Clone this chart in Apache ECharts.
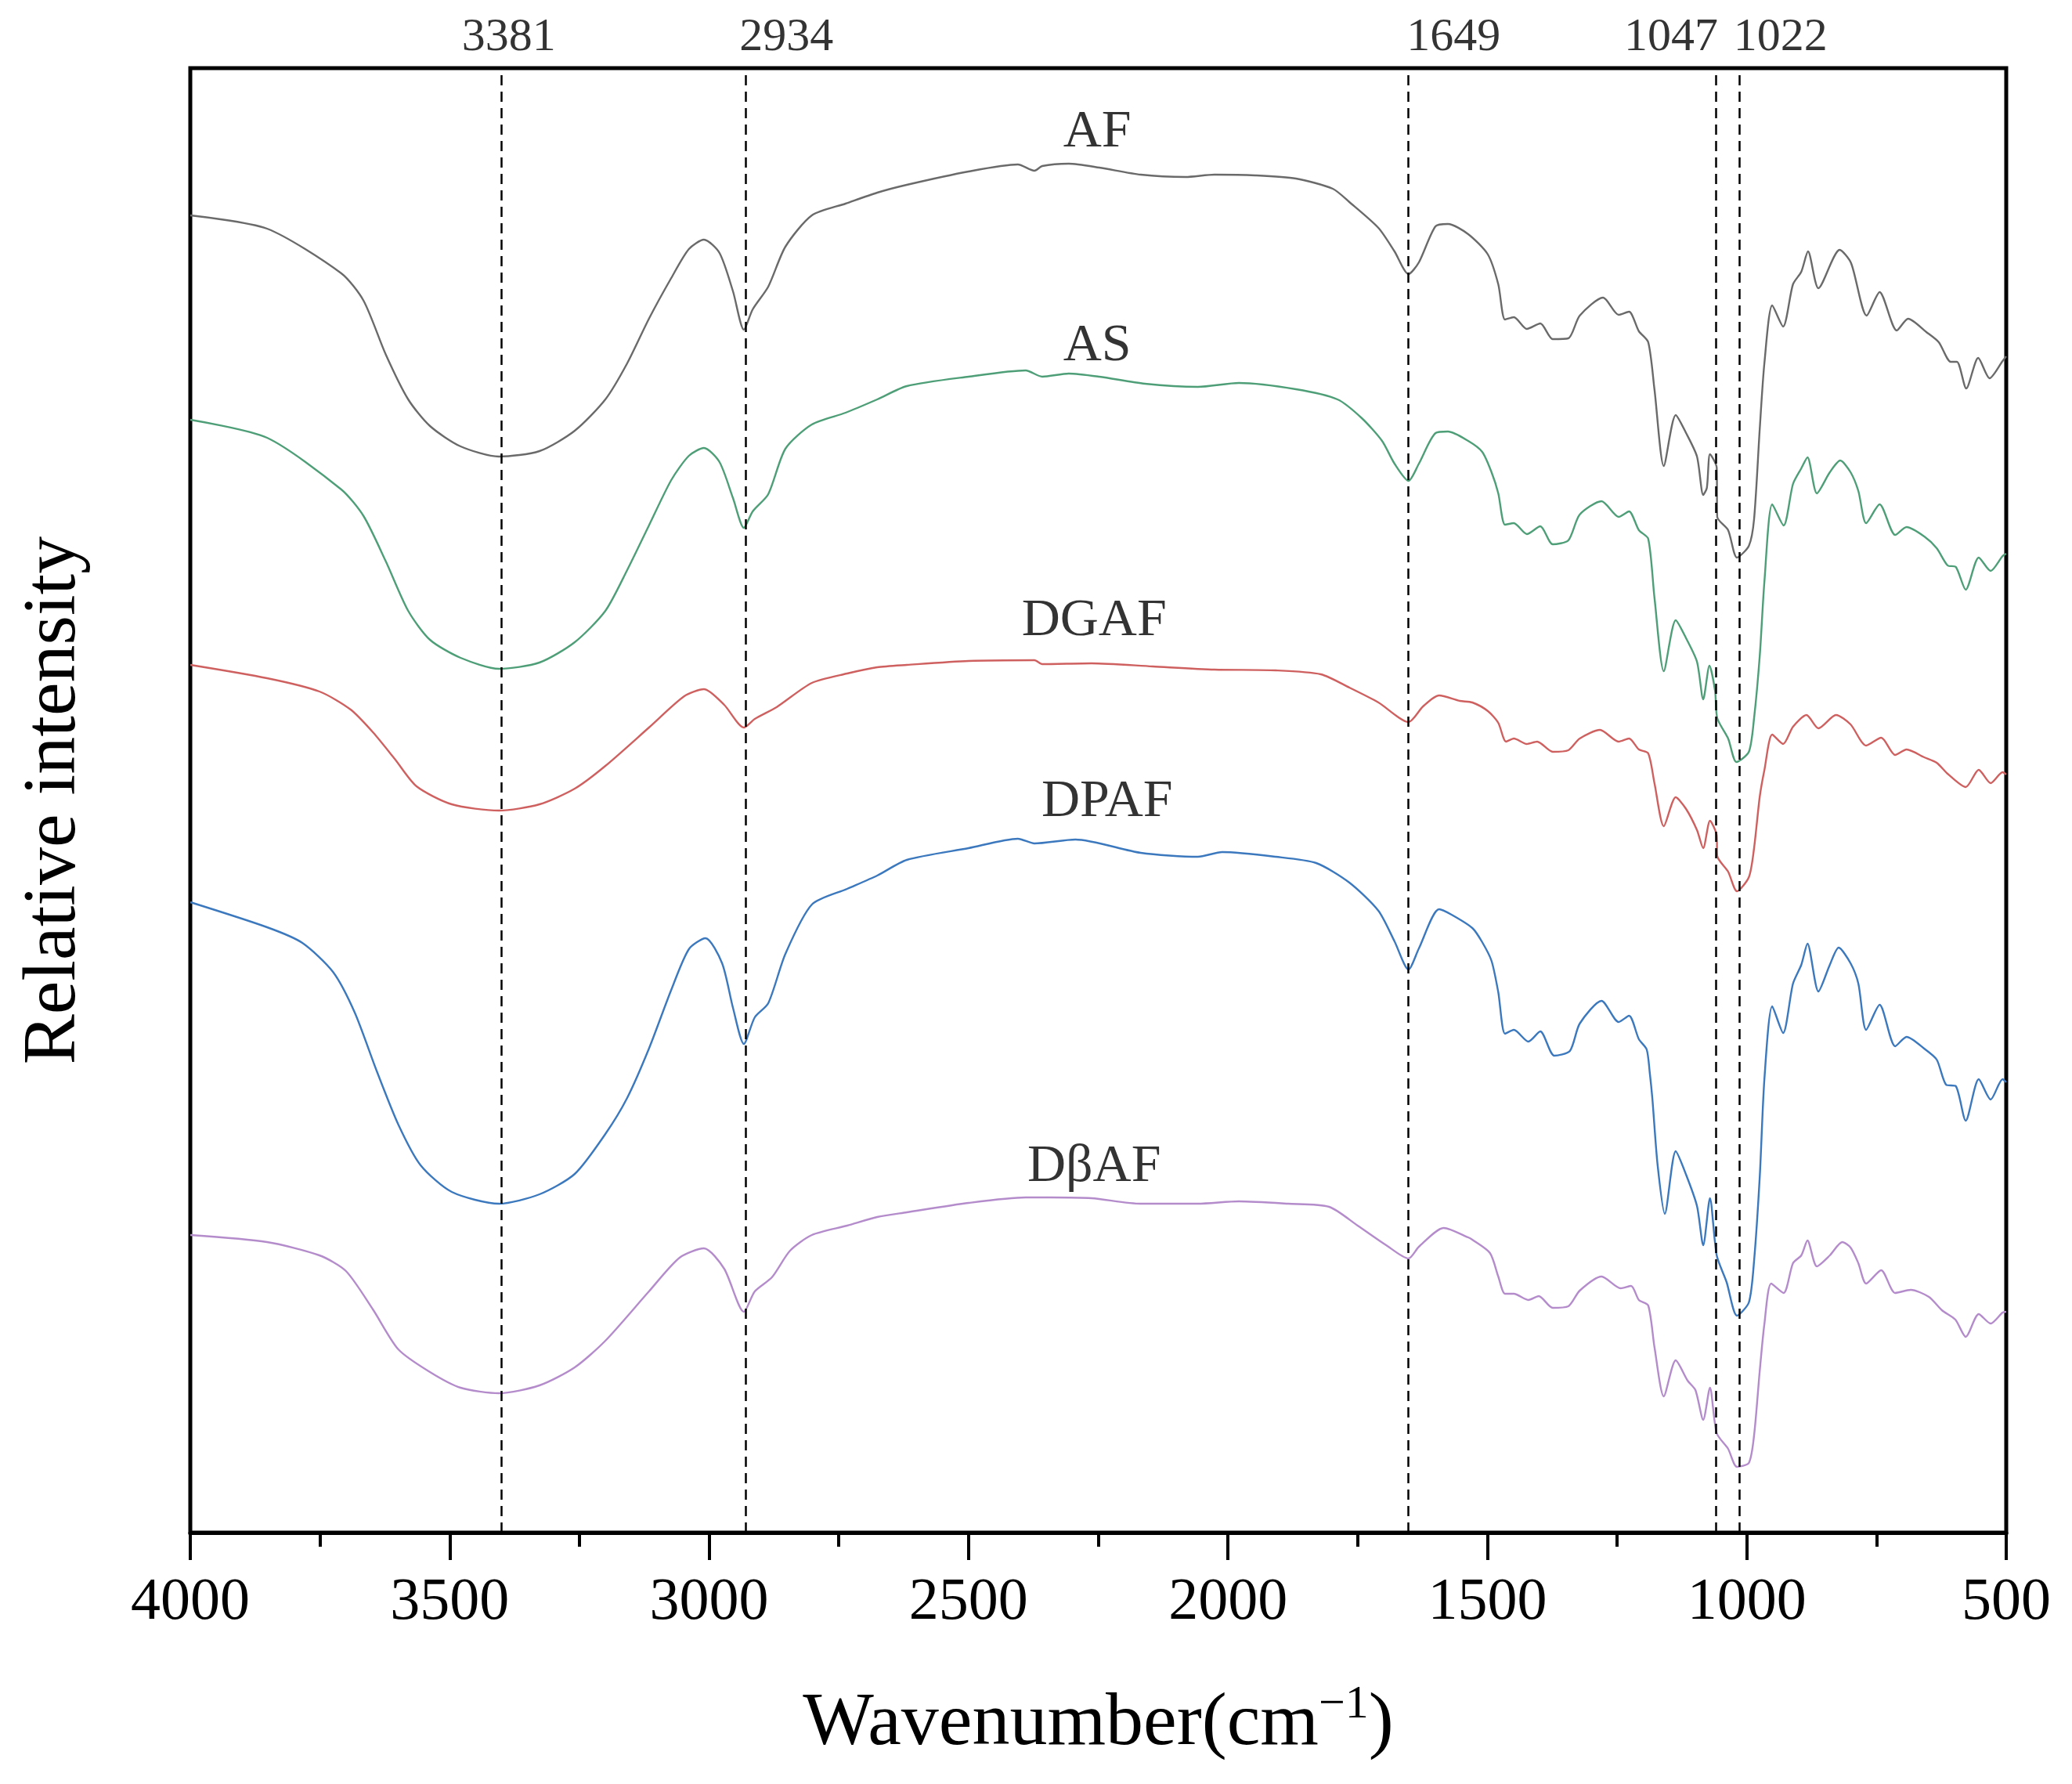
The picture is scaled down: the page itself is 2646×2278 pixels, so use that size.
<!DOCTYPE html>
<html>
<head>
<meta charset="utf-8">
<title>FTIR spectra</title>
<script src="https://cdn.jsdelivr.net/npm/echarts@6/dist/echarts.min.js"></script>
<style>
  html, body { margin: 0; padding: 0; background: #fff; }
  #main { width: 2646px; height: 2278px; }
</style>
</head>
<body>
<div id="main"></div>
<script>
// spectra: [wavenumber, relative intensity (arbitrary units, curves stacked)]
var AF = [[4000,1682],[3852,1665],[3709,1608],[3666,1573],[3623,1504],[3580,1447],[3538,1413],[3479,1387],[3405,1374],[3327,1381],[3259,1407],[3200,1447],[3158,1493],[3116,1550],[3073,1602],[3039,1639],[3010,1651],[2980,1634],[2954,1585],[2933,1536],[2916,1562],[2886,1591],[2853,1642],[2802,1682],[2737,1697],[2676,1711],[2619,1721],[2500,1738],[2405,1747],[2373,1739],[2358,1745],[2307,1748],[2248,1743],[2168,1734],[2082,1731],[2026,1734],[1947,1733],[1869,1729],[1798,1716],[1766,1699],[1710,1666],[1679,1636],[1652,1607],[1632,1622],[1600,1668],[1576,1671],[1537,1658],[1499,1632],[1479,1594],[1466,1549],[1449,1552],[1424,1537],[1398,1544],[1374,1524],[1344,1525],[1322,1554],[1277,1577],[1247,1555],[1227,1559],[1208,1534],[1190,1520],[1178,1460],[1160,1362],[1137,1427],[1117,1404],[1096,1374],[1084,1325],[1077,1334],[1071,1377],[1058,1360],[1057,1297],[1036,1280],[1019,1245],[996,1260],[986,1294],[975,1410],[966,1494],[951,1567],[930,1540],[911,1594],[895,1610],[882,1636],[862,1589],[821,1638],[799,1621],[769,1554],[744,1584],[711,1535],[689,1550],[654,1533],[630,1520],[607,1495],[595,1495],[577,1461],[554,1500],[532,1474],[507,1496],[500,1502]];

var AS = [[4000,1421],[3852,1398],[3709,1332],[3666,1298],[3623,1240],[3580,1177],[3538,1140],[3479,1117],[3405,1103],[3327,1111],[3259,1137],[3200,1177],[3158,1229],[3116,1286],[3073,1344],[3039,1375],[3010,1385],[2980,1367],[2954,1321],[2933,1283],[2916,1304],[2886,1326],[2853,1384],[2802,1415],[2737,1430],[2676,1447],[2619,1464],[2500,1476],[2390,1484],[2358,1476],[2307,1480],[2248,1476],[2160,1467],[2058,1463],[1979,1468],[1869,1460],[1789,1447],[1742,1423],[1703,1394],[1679,1365],[1652,1343],[1632,1365],[1600,1404],[1576,1406],[1537,1394],[1510,1380],[1492,1354],[1479,1327],[1466,1287],[1449,1289],[1424,1275],[1398,1285],[1374,1262],[1344,1267],[1322,1300],[1280,1317],[1247,1297],[1227,1304],[1208,1280],[1190,1269],[1178,1194],[1160,1100],[1137,1165],[1117,1142],[1096,1112],[1084,1064],[1072,1107],[1061,1074],[1057,1040],[1036,1014],[1020,984],[996,997],[986,1040],[975,1120],[966,1215],[951,1313],[929,1286],[911,1339],[895,1359],[883,1373],[865,1327],[840,1354],[820,1369],[800,1354],[785,1330],[770,1289],[744,1313],[714,1274],[692,1284],[658,1272],[634,1257],[613,1235],[597,1233],[578,1204],[553,1245],[530,1228],[507,1247],[500,1250]];

var DGAF = [[4000,1108],[3852,1091],[3751,1074],[3691,1051],[3648,1022],[3606,988],[3564,953],[3496,930],[3405,922],[3327,930],[3259,950],[3200,979],[3116,1028],[3048,1068],[3010,1077],[2971,1057],[2933,1028],[2912,1039],[2870,1054],[2802,1085],[2734,1097],[2676,1105],[2619,1108],[2500,1113],[2373,1114],[2358,1109],[2263,1110],[2145,1106],[2026,1102],[1908,1101],[1821,1096],[1766,1079],[1710,1060],[1652,1035],[1624,1055],[1593,1069],[1553,1062],[1529,1060],[1499,1049],[1479,1034],[1464,1010],[1449,1014],[1424,1007],[1404,1010],[1374,997],[1344,999],[1322,1014],[1283,1025],[1247,1010],[1227,1014],[1208,1000],[1190,995],[1178,957],[1160,902],[1137,939],[1117,924],[1096,897],[1084,874],[1071,909],[1058,890],[1057,864],[1036,844],[1019,819],[996,837],[986,874],[975,940],[966,974],[951,1019],[930,1007],[911,1029],[885,1044],[862,1027],[828,1044],[800,1032],[770,1005],[741,1015],[714,993],[692,1000],[658,990],[634,983],[613,969],[578,952],[553,974],[530,957],[507,971],[500,968]];

var DPAF = [[4000,805],[3852,773],[3784,753],[3725,716],[3683,664],[3641,590],[3599,521],[3556,469],[3496,435],[3405,420],[3327,432],[3259,458],[3200,509],[3158,555],[3116,618],[3073,693],[3039,745],[3007,759],[2975,727],[2954,670],[2933,624],[2912,658],[2886,676],[2853,739],[2802,802],[2734,822],[2676,839],[2619,859],[2500,874],[2405,886],[2373,880],[2294,885],[2168,868],[2058,863],[2011,869],[1908,863],[1830,855],[1766,830],[1710,794],[1679,755],[1652,719],[1632,746],[1593,796],[1569,789],[1529,772],[1510,754],[1492,730],[1479,690],[1466,637],[1449,642],[1421,627],[1398,640],[1371,609],[1341,615],[1322,650],[1280,679],[1247,652],[1227,660],[1208,630],[1193,617],[1187,587],[1182,554],[1172,470],[1158,407],[1137,487],[1117,457],[1096,417],[1084,367],[1071,427],[1058,354],[1039,320],[1019,277],[996,294],[986,347],[975,455],[966,580],[951,672],[930,638],[911,701],[895,725],[883,752],[862,691],[840,725],[823,747],[800,727],[785,701],[770,642],[744,674],[714,621],[692,633],[658,618],[634,604],[616,572],[597,570],[578,526],[553,579],[530,553],[507,579],[500,575]];

var DbAF = [[4000,380],[3852,371],[3751,354],[3700,334],[3648,285],[3599,234],[3538,205],[3479,185],[3405,178],[3327,188],[3259,211],[3200,245],[3116,308],[3057,351],[3010,363],[2971,337],[2933,282],[2912,308],[2879,326],[2844,360],[2802,380],[2734,392],[2676,403],[2619,409],[2500,421],[2390,428],[2343,428],[2263,427],[2168,420],[2058,420],[1979,423],[1884,420],[1805,416],[1750,392],[1695,367],[1652,350],[1632,365],[1584,389],[1537,377],[1529,374],[1495,357],[1479,327],[1466,305],[1449,305],[1421,297],[1401,302],[1374,287],[1344,289],[1322,309],[1280,327],[1243,312],[1223,315],[1208,297],[1190,290],[1178,237],[1160,174],[1137,220],[1114,194],[1099,182],[1084,144],[1071,185],[1058,127],[1036,107],[1019,84],[996,89],[986,124],[975,207],[966,267],[953,318],[929,306],[911,344],[895,354],[883,373],[865,340],[840,354],[816,371],[800,364],[785,344],[770,318],[741,335],[714,306],[684,310],[649,301],[624,284],[598,272],[578,250],[553,279],[530,267],[507,281],[500,282]];

var seriesNames = ['AF', 'AS', 'DGAF', 'DPAF', 'D\u03b2AF'];
var colors = ['#6a6a6a', '#4e9f78', '#cf6060', '#3b78bd', '#b48ccb'];

// where the curve names sit: [wavenumber, intensity]
var nameAt = [[2252, 1788], [2252, 1515], [2258, 1164], [2233, 933], [2258, 467]];

// dashed reference lines and their top labels
var peakLines = [3400, 2929, 1652, 1059, 1015];
var peakNames = ['3381', '2934', '1649', '1047', '1022'];
var peakLabelAt = [3386, 2851, 1565, 1146, 935];

var xTicks = [4000, 3500, 3000, 2500, 2000, 1500, 1000, 500];
var yTop = 1870;

var font = '"Liberation Serif", "Times New Roman", serif';
var myChart = echarts.init(document.getElementById('main'));

var curves = [AF, AS, DGAF, DPAF, DbAF];
var series = curves.map(function (d, i) {
    return {
        name: seriesNames[i],
        type: 'line',
        data: d,
        showSymbol: false,
        smooth: 0.25,
        lineStyle: { color: colors[i], width: 2.4 },
        z: 3
    };
});

series.push({
    type: 'scatter',
    data: nameAt.map(function (p, i) { return { value: p, name: seriesNames[i] }; }),
    symbolSize: 1,
    itemStyle: { color: 'rgba(0,0,0,0)' },
    label: {
        show: true,
        position: 'inside',
        formatter: '{b}',
        color: '#000',
        fontFamily: font,
        fontSize: 68
    },
    z: 4
});

series.push({
    type: 'scatter',
    data: peakLabelAt.map(function (x, i) { return { value: [x, yTop], name: peakNames[i] }; }),
    symbolSize: 1,
    clip: false,
    itemStyle: { color: 'rgba(0,0,0,0)' },
    label: {
        show: true,
        position: 'top',
        distance: 8,
        formatter: '{b}',
        color: '#000',
        fontFamily: font,
        fontSize: 60
    },
    markLine: {
        symbol: 'none',
        silent: true,
        label: { show: false },
        lineStyle: { color: '#000', type: [13, 8], width: 2.5 },
        data: peakLines.map(function (x) { return { xAxis: x }; })
    },
    z: 2
});

var option = {
    animation: false,
    backgroundColor: '#fff',
    grid: {
        left: 243, right: 84, top: 87, bottom: 321,
        show: true,
        borderColor: '#000',
        borderWidth: 5,
        backgroundColor: 'transparent'
    },
    xAxis: {
        type: 'value',
        min: 500,
        max: 4000,
        interval: 500,
        inverse: true,
        name: '{a|Wavenumber(cm}{b|\u22121}{a|)}',
        nameLocation: 'middle',
        nameGap: 190,
        nameTextStyle: {
            rich: {
                a: { fontFamily: font, fontSize: 96, color: '#000', lineHeight: 110 },
                b: { fontFamily: font, fontSize: 60, color: '#000', verticalAlign: 'top', lineHeight: 110 }
            }
        },
        axisLine: { show: true, lineStyle: { color: '#000', width: 5 } },
        axisTick: { show: true, inside: false, length: 35, lineStyle: { color: '#000', width: 4 } },
        minorTick: { show: true, splitNumber: 2, length: 18, lineStyle: { color: '#000', width: 4 } },
        axisLabel: {
            margin: 52,
            color: '#000',
            fontFamily: font,
            fontSize: 76,
            formatter: function (v) { return xTicks.indexOf(v) >= 0 ? String(v) : ''; }
        },
        splitLine: { show: false }
    },
    yAxis: {
        type: 'value',
        min: 0,
        max: yTop,
        name: 'Relative intensity',
        nameLocation: 'middle',
        nameGap: 125,
        nameTextStyle: { fontFamily: font, fontSize: 96, color: '#000' },
        axisLine: { show: false },
        axisTick: { show: false },
        axisLabel: { show: false },
        splitLine: { show: false }
    },
    series: series
};

myChart.setOption(option);
</script>
</body>
</html>
